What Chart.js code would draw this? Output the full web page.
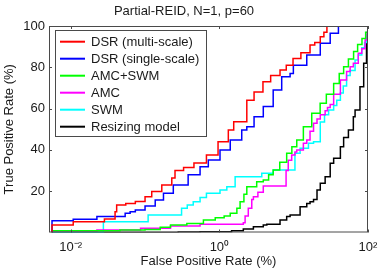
<!DOCTYPE html>
<html><head><meta charset="utf-8">
<script src="https://cdn.jsdelivr.net/npm/chart.js@4/dist/chart.umd.min.js"></script>
<style>html,body{margin:0;padding:0;background:#fff;overflow:hidden}</style>
</head><body>
<canvas id="c" width="382" height="271"></canvas>
<script>
// ---- data (False Positive Rate %, True Positive Rate %) ----
const seriesNames = ['DSR (multi-scale)', 'DSR (single-scale)', 'AMC+SWM', 'AMC', 'SWM', 'Resizing model'];
const seriesColors = ['#ff0000', '#0000ff', '#00ff00', '#ff00ff', '#00ffff', '#000000'];

const dsrMulti = [[0.0056,0],[0.0056,3.6],[0.0108,5.2],[0.0284,6.5],[0.0395,10],[0.0415,13.3],[0.055,14],[0.074,15],[0.1,17.3],[0.123,19.8],[0.168,23],[0.229,26.4],[0.253,30],[0.33,31.5],[0.455,33.6],[0.67,37.5],[0.96,44],[1.32,49.6],[1.56,53.6],[2.34,64],[2.93,68],[3.86,73],[4.9,76],[6.55,78.7],[7.95,81],[9.8,84.3],[12.5,87],[16.6,90.8],[19.2,92],[22.8,94.8],[25.5,97],[28,100],[100,100]];
const dsrSingle = [[0.0056,0],[0.0056,5.7],[0.0108,6.4],[0.0225,7.7],[0.054,9.3],[0.063,10],[0.074,10.9],[0.1,12.8],[0.137,15.7],[0.177,19],[0.24,23],[0.38,28],[0.55,31.9],[0.71,35.1],[1.02,40],[1.4,44.8],[2.0,49.6],[2.34,51.2],[2.93,56],[3.9,61],[5.3,69],[6.9,75.4],[8.95,77],[9.9,81],[15,86],[22.8,91.6],[31,96.5],[40,100],[100,100]];
const amcSwm = [[0.0056,0],[0.0056,0.9],[0.046,1.2],[0.1,1.5],[0.16,2.5],[0.22,3.6],[0.365,4.4],[0.61,6],[0.88,7.2],[1.16,8],[1.4,9.3],[1.72,11.7],[1.9,14.9],[2.14,18.5],[2.34,22.2],[3.18,24.6],[3.9,25.4],[4.6,28],[5.3,30.3],[6.5,34],[8.05,38.4],[9.45,41.5],[11,44.8],[13.5,51.2],[17.5,57.7],[22.7,62.6],[27.5,67],[34.5,72.2],[41,77],[47,80.3],[54.5,84],[64,87.6],[72.5,91],[83,94],[93,97],[100,100]];
const amc = [[0.0056,0],[0.0056,0.7],[0.0225,1.2],[0.087,2],[0.22,3.1],[0.55,4],[2.1,4.7],[2.22,8],[2.45,11.7],[2.73,16],[2.87,17.3],[3.3,19.5],[3.9,22.5],[7.6,22.5],[7.9,30],[8.45,35],[9.4,37.5],[10.4,39],[11,40],[13.5,43.2],[15,44.8],[16.6,49],[18.5,52.9],[20.6,55],[22.8,57],[26.5,59],[28.5,60.5],[31,62],[34.5,67],[42.5,73.8],[51.5,78],[57.5,80.3],[63.5,82],[74,86.8],[82.5,89],[91.4,93.2],[97,97],[100,100]];
const swm = [[0.0056,0],[0.0275,0],[0.0275,5.2],[0.11,8.5],[0.31,11.7],[0.37,13.3],[0.445,14.9],[0.55,17],[0.67,19],[1.02,20.6],[1.26,22.2],[1.63,23],[1.63,27],[3.72,28.7],[5.3,30.3],[10.4,30.3],[10.4,38.4],[12.2,40.8],[15.8,43.2],[18.5,44],[22.8,45.5],[22.8,53.5],[26,57],[29.5,59.3],[34.5,61.5],[38,64],[42.5,67.5],[46.5,71],[51.5,76],[57.5,78.5],[67,83.5],[74,86],[82.5,89.5],[90,92],[96.3,96],[99,98],[100,100]];
const resizing = [[0.0056,0],[0.28,0.2],[0.55,0.4],[1.46,0.9],[2.1,1.7],[2.87,2.8],[3.9,3.6],[4.35,4],[6.55,6],[8.05,7.7],[8.95,8.5],[12.2,12.5],[15,14],[16.6,14.9],[18.5,16],[20.6,20.6],[22.8,23.8],[26.5,27],[31,33.5],[34.5,36],[42.5,41.5],[47,46],[54.5,49.6],[63.5,56],[67,59.3],[78,70.6],[87.5,82],[95.5,94.8],[100,100]];

const xTickValues = [0.01, 1, 100];
const xTickLabels = ['10\u207B\u00B2', '10\u2070', '10\u00B2'];
const yTickValues = [20, 40, 60, 80, 100];

const allSeries = [dsrMulti, dsrSingle, amcSwm, amc, swm, resizing];

const FONT = "'Liberation Sans', Arial, Helvetica, sans-serif";
const TXT = '#1a1a1a';
const AXC = '#4a4a4a';

const framePlugin = {
  id: 'frame',
  afterDatasetsDraw(chart) {
    const {ctx, chartArea: a, scales} = chart;
    ctx.save();
    ctx.strokeStyle = AXC;
    ctx.lineWidth = 1;
    ctx.strokeRect(a.left + 0.5, a.top + 0.5, a.right - a.left - 1, a.bottom - a.top - 1);
    const tl = 3;
    ctx.beginPath();
    yTickValues.forEach(v => {
      const y = Math.round(scales.y.getPixelForValue(v)) + 0.5;
      ctx.moveTo(a.left, y); ctx.lineTo(a.left + tl, y);
      ctx.moveTo(a.right, y); ctx.lineTo(a.right - tl, y);
    });
    xTickValues.forEach(v => {
      const x = Math.round(scales.x.getPixelForValue(v)) + 0.5;
      ctx.moveTo(x, a.bottom); ctx.lineTo(x, a.bottom - tl);
      ctx.moveTo(x, a.top); ctx.lineTo(x, a.top + tl);
    });
    ctx.stroke();
    ctx.restore();
  },
  afterDraw(chart) {
    const {ctx, chartArea: a} = chart;
    const bx = a.left + 6, by = a.top + 4, bw = 151, bh = 106;
    ctx.save();
    ctx.fillStyle = '#fff';
    ctx.fillRect(bx, by, bw, bh);
    ctx.strokeStyle = AXC;
    ctx.lineWidth = 1;
    ctx.strokeRect(bx + 0.5, by + 0.5, bw, bh);
    ctx.font = '13px ' + FONT;
    ctx.textBaseline = 'middle';
    ctx.textAlign = 'left';
    chart.data.datasets.forEach((ds, i) => {
      const y = by + 11.7 + i * 17;
      ctx.strokeStyle = ds.borderColor;
      ctx.lineWidth = 2;
      ctx.beginPath();
      ctx.moveTo(bx + 5, y); ctx.lineTo(bx + 30, y);
      ctx.stroke();
      ctx.fillStyle = TXT;
      ctx.fillText(ds.label, bx + 36, y + 0.5);
    });
    ctx.restore();
  }
};

new Chart(document.getElementById('c'), {
  type: 'line',
  data: {
    datasets: allSeries.map((s, i) => ({
      label: seriesNames[i],
      data: s.map(([x, y]) => ({x, y})),
      borderColor: seriesColors[i],
      backgroundColor: seriesColors[i],
      borderWidth: 1.5,
      pointRadius: 0,
      stepped: 'before',
      fill: false
    }))
  },
  options: {
    responsive: false,
    animation: false,
    devicePixelRatio: 1,
    layout: {padding: {left: 0, right: 14, top: 0, bottom: 0}},
    plugins: {
      legend: {display: false},
      tooltip: {enabled: false},
      title: {
        display: true, text: 'Partial-REID, N=1, p=60', color: TXT,
        font: {family: FONT, size: 13, weight: 'normal'},
        padding: {top: 4, bottom: 6.4}
      }
    },
    scales: {
      x: {
        type: 'logarithmic', min: 0.0051, max: 100,
        afterBuildTicks: s => { s.ticks = xTickValues.map(v => ({value: v})); },
        afterFit: s => { s.height = 38.5; s.paddingLeft = 0; s.paddingRight = 0; },
        ticks: {
          autoSkip: false, maxRotation: 0, padding: 7, color: TXT,
          font: {family: FONT, size: 13},
          callback: v => { const k = xTickValues.indexOf(v); return k >= 0 ? xTickLabels[k] : ''; }
        },
        grid: {display: false, drawTicks: false},
        border: {display: false},
        title: {display: true, text: 'False Positive Rate (%)', color: TXT, font: {family: FONT, size: 13}, padding: {top: 0, bottom: 2}}
      },
      y: {
        min: 0, max: 100,
        afterBuildTicks: s => { s.ticks = yTickValues.map(v => ({value: v})); },
        afterFit: s => { s.width = 49; s.paddingTop = 0; s.paddingBottom = 0; },
        ticks: {padding: 4, color: TXT, font: {family: FONT, size: 13}},
        grid: {display: false, drawTicks: false},
        border: {display: false},
        title: {display: true, text: 'True Positive Rate (%)', color: TXT, font: {family: FONT, size: 13}, padding: {top: 2, bottom: 0}}
      }
    }
  },
  plugins: [framePlugin]
});
</script>
</body></html>
